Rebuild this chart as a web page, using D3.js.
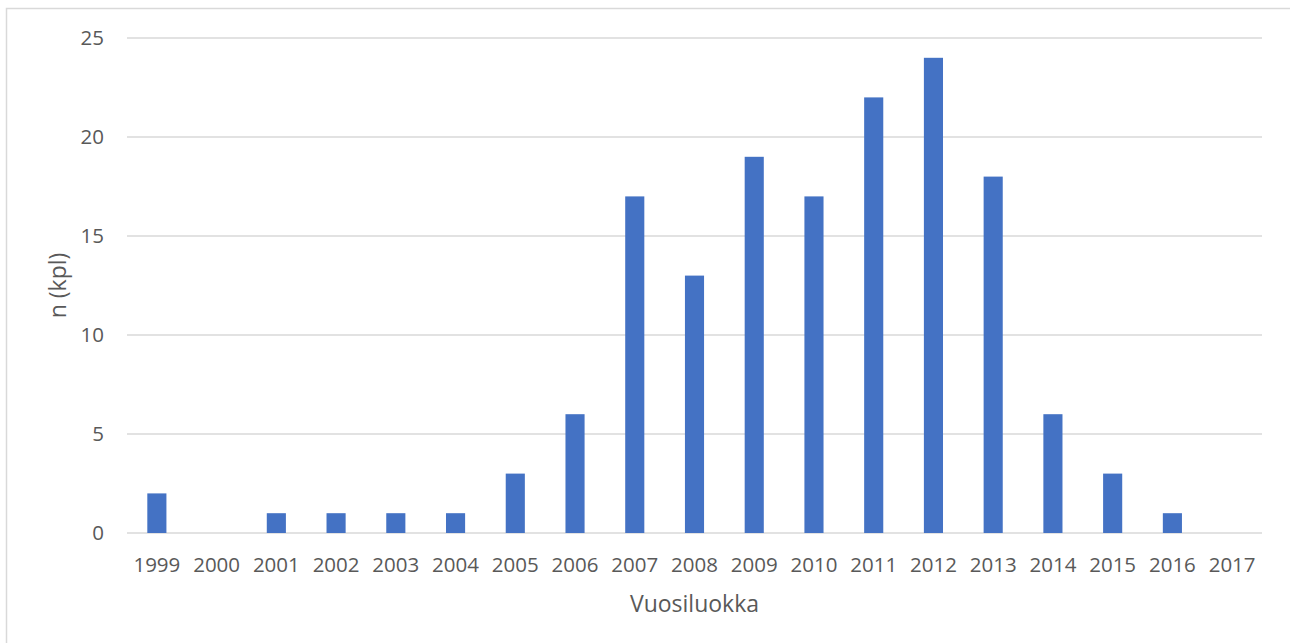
<!DOCTYPE html>
<html>
<head>
<meta charset="utf-8">
<script src="https://cdn.jsdelivr.net/npm/d3@7"></script>
<style>
  body { margin: 0; background: #fff; }
  svg { display: block; font-family: 'Open Sans', sans-serif; }
</style>
</head>
<body>
<script>
const years = ['1999', '2000', '2001', '2002', '2003', '2004', '2005', '2006', '2007', '2008',
  '2009', '2010', '2011', '2012', '2013', '2014', '2015', '2016', '2017']
const counts = [2, 0, 1, 1, 1, 1, 3, 6, 17, 13, 19, 17, 22, 24, 18, 6, 3, 1, 0]
const yTicks = [0, 5, 10, 15, 20, 25]

const width = 1290
const height = 643
const margin = { left: 127, right: 28, top: 38, bottom: 110 }
const tickSize = '20.5px'
const titleSize = '23px'

const svg = d3.select('body').append('svg')
  .attr('width', width)
  .attr('height', height)

// outer frame
svg.append('rect')
  .attr('x', 6.5).attr('y', 8.5)
  .attr('width', width + 10).attr('height', height + 10)
  .attr('fill', 'none')
  .attr('stroke', '#d9d9d9')
  .attr('stroke-width', 1.5)

const x = d3.scaleBand()
  .domain(years)
  .range([margin.left, width - margin.right])
  .paddingInner(0.68)
  .paddingOuter(0.34)

const y = d3.scaleLinear()
  .domain([0, 25])
  .range([height - margin.bottom, margin.top])

// gridlines
svg.append('g')
  .selectAll('line')
  .data(yTicks)
  .join('line')
  .attr('x1', margin.left)
  .attr('x2', width - margin.right)
  .attr('y1', d => y(d))
  .attr('y2', d => y(d))
  .attr('stroke', '#d9d9d9')
  .attr('stroke-width', 1.3)

// bars
svg.append('g')
  .selectAll('rect')
  .data(counts)
  .join('rect')
  .attr('x', (d, i) => x(years[i]))
  .attr('width', x.bandwidth())
  .attr('y', d => y(d))
  .attr('height', d => y(0) - y(d))
  .attr('fill', '#4472c4')

// y tick labels
svg.append('g')
  .selectAll('text')
  .data(yTicks)
  .join('text')
  .attr('x', 104)
  .attr('y', d => y(d))
  .attr('dy', '0.36em')
  .attr('text-anchor', 'end')
  .attr('fill', '#595959')
  .style('font-size', tickSize)
  .text(d => d)

// x tick labels
svg.append('g')
  .selectAll('text')
  .data(years)
  .join('text')
  .attr('x', d => x(d) + x.bandwidth() / 2)
  .attr('y', 572)
  .attr('text-anchor', 'middle')
  .attr('fill', '#595959')
  .style('font-size', tickSize)
  .text(d => d)

// axis titles
svg.append('text')
  .attr('transform', `translate(66,${(y(0) + y(25)) / 2}) rotate(-90)`)
  .attr('text-anchor', 'middle')
  .attr('fill', '#595959')
  .style('font-size', titleSize)
  .text('n (kpl)')

svg.append('text')
  .attr('x', (margin.left + width - margin.right) / 2)
  .attr('y', 612)
  .attr('text-anchor', 'middle')
  .attr('fill', '#595959')
  .style('font-size', titleSize)
  .text('Vuosiluokka')
</script>
</body>
</html>
